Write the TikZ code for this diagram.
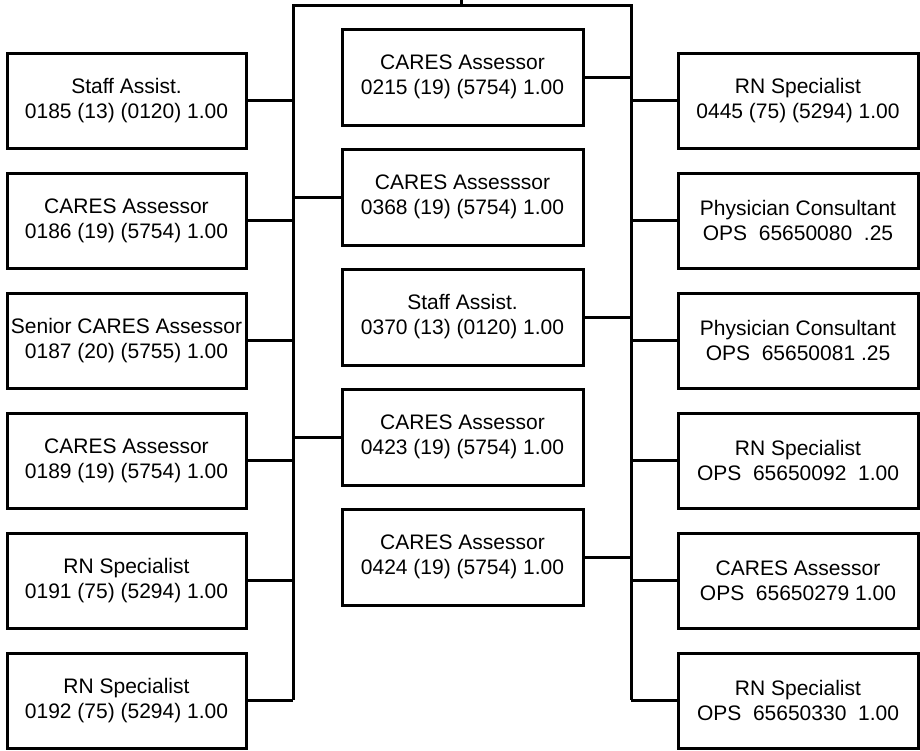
\documentclass[tikz,border=0pt]{standalone}
\usepackage{fontspec}
\setmainfont{Liberation Sans}
\usetikzlibrary{positioning}

\begin{document}
\begin{tikzpicture}[x=1pt,y=-1pt,line width=3pt,
  post/.style={draw,rectangle,align=center,inner sep=0pt,minimum width=240pt,
    minimum height=95pt,font=\fontsize{21}{25}\selectfont}]
\useasboundingbox (0,0) rectangle (920,750);
% trunk lines
\coordinate (tt) at (461,0);
\coordinate (tj) at (461,5);
\coordinate (lt) at (293,5);
\coordinate (rt) at (631,5);
\coordinate (lb) at (293,700);
\coordinate (rb) at (631,700);
\draw (tt) -- (tj);
\draw (lb) -- (lt) -- (rt) -- (rb);
% left column
\foreach \i/\t/\u in %
{1/Staff Assist./0185 (13) (0120) 1.00,
 2/CARES Assessor/0186 (19) (5754) 1.00,
 3/Senior CARES Assessor/0187 (20) (5755) 1.00,
 4/CARES Assessor/0189 (19) (5754) 1.00,
 5/RN Specialist/0191 (75) (5294) 1.00,
 6/RN Specialist/0192 (75) (5294) 1.00} {
   \node[post,minimum width=239pt](l\i) at (126.5,{100.5+120*(\i-1)}) {\t\\\u};
   \draw (l\i.east) -- (l\i.east -| lt);
}
% middle column
\foreach \i/\t/\u in %
{1/CARES Assessor/0215 (19) (5754) 1.00,
 2/CARES Assesssor/0368 (19) (5754) 1.00,
 3/Staff Assist./0370 (13) (0120) 1.00,
 4/CARES Assessor/0423 (19) (5754) 1.00,
 5/CARES Assessor/0424 (19) (5754) 1.00} {
   \node[post,minimum width=241pt,minimum height=96pt](m\i) at (462.5,{77+120*(\i-1)}) {\t\\\u};
}
\draw (m1.east) -- (m1.east -| rt);
\draw (m2.west) -- (m2.west -| lt);
\draw (m3.east) -- (m3.east -| rt);
\draw (m4.west) -- (m4.west -| lt);
\draw (m5.east) -- (m5.east -| rt);
% right column
\foreach \i/\t/\u in %
{1/RN Specialist/0445 (75) (5294) 1.00,
 2/Physician Consultant/OPS\ \ 65650080\ \ .25,
 3/Physician Consultant/OPS\ \ 65650081 .25,
 4/RN Specialist/OPS\ \ 65650092\ \ 1.00,
 5/CARES Assessor/OPS\ \ 65650279 1.00,
 6/RN Specialist/OPS\ \ 65650330\ \ 1.00} {
   \node[post](r\i) at (798,{100.5+120*(\i-1)}) {\t\\\u};
   \draw (r\i.west) -- (r\i.west -| rt);
}
\end{tikzpicture}
\end{document}
